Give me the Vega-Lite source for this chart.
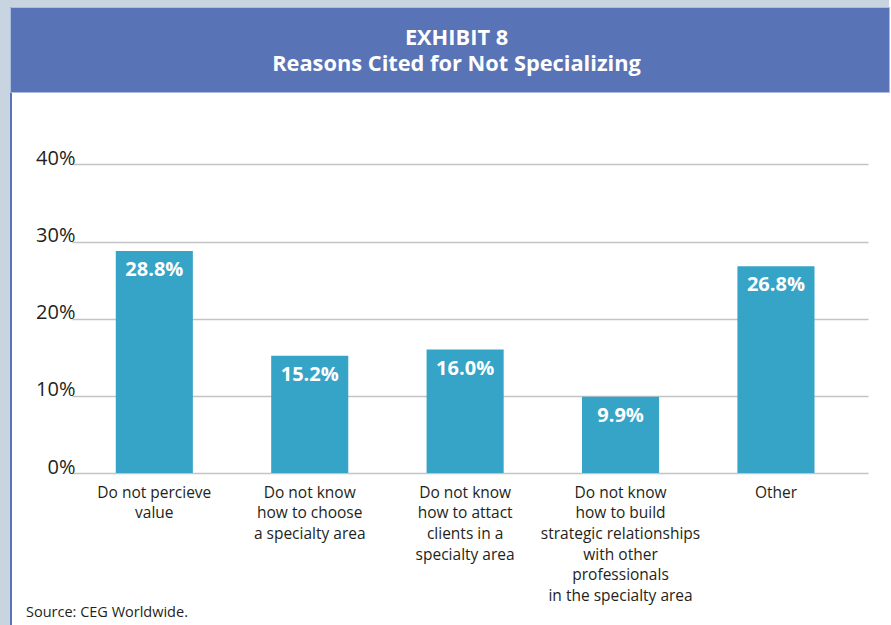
{
  "$schema": "https://vega.github.io/schema/vega-lite/v6.json",
  "background": "white",
  "padding": 0,
  "spacing": 0,
  "bounds": "flush",
  "config": {"view": {"stroke": null}, "font": "Open Sans", "concat": {"spacing": 0}},
  "hconcat": [
    {
      "width": 10, "height": 625,
      "view": {"fill": "#c8d4e0"},
      "data": {"values": [{}]},
      "mark": {"type": "point", "opacity": 0},
      "encoding": {}
    },
    {
      "spacing": 0,
      "bounds": "flush",
      "vconcat": [
        {"width": 2, "height": 7, "view": {"fill": "#c8d4e0"}, "data": {"values": [{}]}, "mark": {"type": "point", "opacity": 0}, "encoding": {}},
        {"width": 2, "height": 618, "view": {"fill": "#5a73b8"}, "data": {"values": [{}]}, "mark": {"type": "point", "opacity": 0}, "encoding": {}}
      ]
    },
    {
      "spacing": 0,
      "bounds": "flush",
      "vconcat": [
        {"width": 879, "height": 7, "view": {"fill": "#c8d4e0"}, "data": {"values": [{}]}, "mark": {"type": "point", "opacity": 0}, "encoding": {}},
        {
          "width": 879, "height": 85,
          "view": {"fill": "#5874b6", "stroke": "#aebbe0", "strokeWidth": 1},
          "data": {"values": [{}]},
          "layer": [
            {
              "mark": {
                "type": "text", "text": "EXHIBIT 8",
                "font": "Open Sans", "fontWeight": "bold", "fontSize": 21.8,
                "color": "white", "align": "center", "baseline": "middle", "dx": 7, "dy": -12
              },
              "encoding": {}
            },
            {
              "mark": {
                "type": "text", "text": "Reasons Cited for Not Specializing",
                "font": "Open Sans", "fontWeight": "bold", "fontSize": 21.8,
                "color": "white", "align": "center", "baseline": "middle", "dx": 7, "dy": 14.5
              },
              "encoding": {}
            }
          ]
        },
        {
          "spacing": 0,
          "bounds": "flush",
          "hconcat": [
            {"width": 62, "height": 381, "data": {"values": [{}]}, "mark": {"type": "point", "opacity": 0}, "encoding": {}},
            {
              "width": 796, "height": 381,
              "data": {"values": [
                {"reason": "Do not percieve\nvalue", "value": 0.288},
                {"reason": "Do not know\nhow to choose\na specialty area", "value": 0.152},
                {"reason": "Do not know\nhow to attact\nclients in a\nspecialty area", "value": 0.160},
                {"reason": "Do not know\nhow to build\nstrategic relationships\nwith other\nprofessionals\nin the specialty area", "value": 0.099},
                {"reason": "Other", "value": 0.268}
              ]},
              "title": {
                "text": "Source: CEG Worldwide.", "orient": "bottom", "anchor": "start", "frame": "group",
                "dx": -46, "offset": 2, "fontSize": 14.5, "fontWeight": "normal", "color": "#231f20", "font": "Open Sans"
              },
              "encoding": {
                "x": {
                  "field": "reason", "type": "nominal", "sort": null,
                  "scale": {"paddingInner": 0.504, "paddingOuter": 0.313, "align": 0.45},
                  "axis": {
                    "title": null, "labelAngle": 0, "labelExpr": "split(datum.label, '\\n')",
                    "labelFontSize": 15.5, "labelLineHeight": 20.7, "labelBaseline": "top",
                    "labelPadding": 12, "domain": false, "ticks": false, "labelColor": "#231f20",
                    "labelLimit": 300, "labelFont": "Open Sans"
                  }
                },
                "y": {
                  "field": "value", "type": "quantitative",
                  "scale": {"domain": [0, 0.494], "nice": false},
                  "axis": {
                    "values": [0, 0.1, 0.2, 0.3, 0.4], "format": ".0%", "title": null,
                    "domain": false, "ticks": false, "grid": true, "gridColor": "#c4c4c4", "gridWidth": 1.5,
                    "labelBaseline": "alphabetic", "labelPadding": -3, "labelFontSize": 20,
                    "labelColor": "#231f20", "labelFont": "Open Sans"
                  }
                }
              },
              "layer": [
                {"mark": {"type": "bar", "color": "#36a4c7"}},
                {
                  "mark": {"type": "text", "baseline": "top", "dy": 9, "color": "white", "fontWeight": "bold", "fontSize": 20, "font": "Open Sans"},
                  "encoding": {"text": {"field": "value", "format": ".1%"}}
                }
              ]
            }
          ]
        }
      ]
    }
  ]
}
